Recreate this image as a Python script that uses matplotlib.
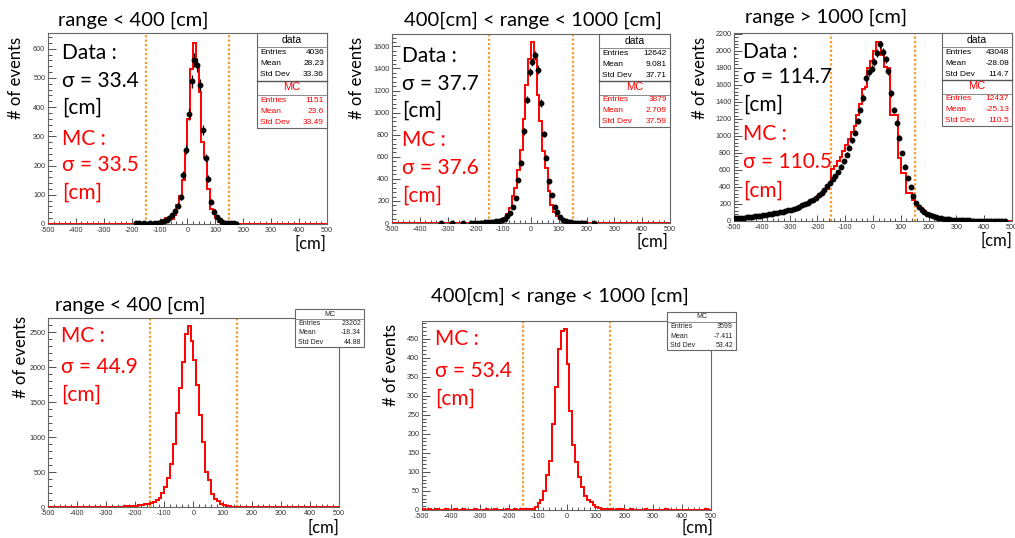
import numpy as np
import matplotlib
matplotlib.use("Agg")
import matplotlib.pyplot as plt
from matplotlib.patches import Rectangle
from matplotlib.lines import Line2D

plt.rcParams['axes.unicode_minus'] = False

W, H = 1015, 538
SLIDE_FONT = ['Lato', 'DejaVu Sans']
ROOT_FONT = ['Liberation Sans', 'DejaVu Sans']

# 10 cm bins from -500 to 500 cm
edges = np.arange(-500, 501, 10)
centers = edges[:-1] + 5

# range < 400 cm : data and MC (left edge of first listed bin, then counts)
p1_data_lo = -190
p1_data = [2, 2, 1, 2, 1, 2, 1, 3, 4, 6,
           9, 14, 20, 32, 45, 63,
           91, 168, 254, 377, 488, 562, 545, 476,
           322, 226, 155, 77, 42, 25, 14, 8, 5, 4, 3, 2, 1]
p1_mc_lo = -110
p1_mc = [3, 8, 15, 20, 20, 18, 30, 65, 95, 150,
         250, 360, 530, 620, 545, 453, 282, 226, 120, 50,
         48, 20, 8, 4, 2, 1]

# 400 cm < range < 1000 cm
p2_data_lo = -330
p2_data = [1, 0, 0, 0, 1, 0, 0, 0, 1, 0,
           0, 2, 2, 3, 3, 4, 5, 6, 8, 10,
           14, 20, 25, 35, 60, 90, 148, 225, 391, 545,
           830, 1118, 1370, 1460, 1520, 1390, 1088, 809, 592, 376,
           255, 148, 100, 50, 30, 15, 10, 6, 4, 3,
           2, 2, 1, 0, 0, 1]
p2_mc_lo = -150
p2_mc = [3, 5, 10, 15, 25, 45, 80, 136, 248, 318,
         482, 664, 945, 1248, 1490, 1640, 1490, 1157, 920, 650,
         500, 290, 164, 100, 60, 35, 20, 12, 8, 5, 3]

# range > 1000 cm (full -500..500)
p3_data = [30, 32, 35, 38, 42, 45, 50, 55, 58, 62,
           68, 72, 78, 82, 90, 95, 100, 110, 115, 125,
           130, 140, 155, 170, 185, 200, 215, 235, 250, 275,
           300, 335, 370, 410, 450, 490, 530, 580, 640, 700,
           780, 860, 950, 1040, 1180, 1300, 1450, 1680, 1750, 1790,
           1870, 1975, 2075, 1990, 1900, 1760, 1500, 1300, 1150, 980,
           800, 640, 500, 400, 290, 215, 165, 130, 100, 80,
           65, 55, 45, 38, 32, 27, 22, 18, 15, 13,
           11, 9, 8, 7, 6, 5, 4, 4, 3, 3,
           2, 2, 2, 1, 1, 1, 1, 1, 0, 0]
p3_mc = [25, 28, 30, 32, 38, 40, 45, 48, 52, 55,
         60, 62, 70, 55, 85, 70, 95, 100, 110, 120,
         130, 140, 155, 165, 180, 195, 210, 230, 250, 270,
         295, 320, 350, 380, 420, 617, 650, 700, 754, 817,
         891, 960, 1050, 1120, 1250, 1380, 1550, 1580, 1800, 1880,
         2000, 2110, 2110, 1950, 1810, 1800, 1250, 1250, 1250, 740,
         560, 560, 330, 330, 246, 210, 180, 150, 120, 90,
         75, 65, 50, 40, 35, 28, 22, 18, 15, 12,
         10, 8, 7, 6, 5, 4, 4, 3, 3, 2,
         2, 2, 1, 1, 1, 1, 0, 0, 0, 0]

# MC only, range < 400 cm
p4_mc_lo = -280
p4_mc = [3, 4, 5, 6, 8, 10, 13, 16, 20, 25,
         30, 38, 45, 55, 70, 95, 135, 195, 290, 410,
         620, 900, 1340, 1700, 2080, 2470, 2590, 2370, 2100, 1750,
         1320, 930, 500, 380, 190, 120, 80, 50, 25, 15,
         10, 6, 4]

# MC only, 400 cm < range < 1000 cm
p5_mc_lo = -500
p5_mc = [2, 1, 2, 0, 1, 2, 1, 0, 2, 1,
         1, 2, 0, 1, 2, 1, 1, 0, 2, 1,
         1, 0, 2, 1, 1, 2, 1, 0, 1, 2,
         1, 1, 2, 1, 3, 2, 3, 2, 3, 9,
         19, 27, 49, 91, 129, 225, 322, 423, 470, 475,
         384, 261, 171, 127, 87, 61, 36, 27, 20, 12,
         7, 4, 3, 2, 3, 2, 1, 2, 1, 2,
         1, 0, 2, 1, 1, 0, 1, 2, 1, 0,
         1, 1, 0, 1, 2, 1, 0, 1, 1, 0,
         1, 0, 1, 1, 0, 1, 0, 1, 2, 1]


def full(lo, vals):
    h = np.zeros(len(centers))
    i0 = int((lo - edges[0]) // 10)
    h[i0:i0 + len(vals)] = vals
    return h


def fx(x):
    return x / W


def fy(y):
    return 1 - y / H


fig = plt.figure(figsize=(W / 100, H / 100), dpi=100)


def panel(box, ytop, ystep, mc, data=None):
    l, t, r, b = box
    ax = fig.add_axes([fx(l), fy(b), (r - l) / W, (b - t) / H])
    ax.stairs(mc, edges, color='red', lw=1.4, zorder=3)
    if data is not None:
        m = data > 0
        ax.errorbar(centers[m], data[m], yerr=np.sqrt(data[m]), fmt='o',
                    color='black', ms=3.2, elinewidth=0.9, capsize=0, zorder=4)
    for xv in (-150, 150):
        ax.axvline(xv, color='#f39a2c', ls=(0, (1, 1)), lw=1.6, zorder=2)
    ax.set_xlim(-500, 500)
    ax.set_ylim(0, ytop)
    ax.set_xticks(np.arange(-500, 501, 100))
    ax.set_xticks(np.arange(-500, 501, 20), minor=True)
    yt = np.arange(0, ytop, ystep)
    ax.set_yticks(yt)
    ax.set_yticks(np.arange(0, ytop, ystep / 5), minor=True)
    ax.set_xticklabels([str(v) for v in np.arange(-500, 501, 100)])
    ax.set_yticklabels([str(int(v)) for v in yt])
    ax.tick_params(which='both', direction='in', top=False, right=False,
                   labelsize=5.2, labelcolor='#333333', color='#333333',
                   width=0.6, pad=2)
    ax.tick_params(axis='x', which='major', length=4.5)
    ax.tick_params(axis='x', which='minor', length=2.2)
    ax.tick_params(axis='y', which='major', length=6)
    ax.tick_params(axis='y', which='minor', length=3)
    for lab in ax.get_xticklabels() + ax.get_yticklabels():
        lab.set_family(ROOT_FONT)
    for s in ax.spines.values():
        s.set_color('#666666')
        s.set_linewidth(0.8)
    return ax


def stat_block(x0, x1, top, head_h, row_h, title, rows, color, hs, rs):
    fig.text(fx((x0 + x1) / 2), fy(top + head_h / 2), title, ha='center',
             va='center', fontsize=hs, color=color, family=ROOT_FONT,
             zorder=7)
    y = top + head_h
    fig.add_artist(Line2D([fx(x0), fx(x1)], [fy(y), fy(y)], color='#777777',
                          lw=0.6, zorder=7))
    for i, (name, val) in enumerate(rows):
        yy = y + row_h * (i + 0.5)
        fig.text(fx(x0 + 3), fy(yy), name, ha='left', va='center',
                 fontsize=rs, color=color, family=ROOT_FONT, zorder=7)
        fig.text(fx(x1 - 3), fy(yy), val, ha='right', va='center',
                 fontsize=rs, color=color, family=ROOT_FONT, zorder=7)
    return y + row_h * len(rows)


def stat_box(x0, x1, top, bottom):
    fig.add_artist(Rectangle((fx(x0), fy(bottom)), (x1 - x0) / W,
                             (bottom - top) / H, transform=fig.transFigure,
                             facecolor='white', edgecolor='#666666', lw=0.8,
                             zorder=5))


def two_stats(x0, x1, top, bottom, dvals, mvals):
    stat_box(x0, x1, top, bottom)
    half = (bottom - top) / 2
    head = 14
    row = (half - head) / 3
    names = ['Entries', 'Mean', 'Std Dev']
    mid = stat_block(x0, x1, top, head, row, 'data', list(zip(names, dvals)),
                     'black', 7.5, 6)
    fig.add_artist(Line2D([fx(x0), fx(x1)], [fy(mid), fy(mid)],
                          color='#555555', lw=1.0, zorder=7))
    stat_block(x0, x1, mid, head, row, 'MC', list(zip(names, mvals)),
               'red', 8, 6)


def one_stats(x0, x1, top, bottom, mvals):
    stat_box(x0, x1, top, bottom)
    head = 10
    row = (bottom - top - head) / 3
    names = ['Entries', 'Mean', 'Std Dev']
    stat_block(x0, x1, top, head, row, 'MC', list(zip(names, mvals)),
               '#222222', 5, 5)


def slide_text(x, y, s, color='black', size=15, **kw):
    fig.text(fx(x), fy(y), s, color=color, fontsize=size, family=SLIDE_FONT,
             va='center', **kw)


def sigma_lines(x, ys, labels, colors):
    for y, s, c in zip(ys, labels, colors):
        slide_text(x, y, s, color=c, ha='left')


# ---- top row: data vs MC ----
panel((48, 33, 327, 224), 654, 100, full(p1_mc_lo, p1_mc),
      full(p1_data_lo, p1_data))
panel((392, 34, 670, 223), 1712, 200, full(p2_mc_lo, p2_mc),
      full(p2_data_lo, p2_data))
panel((734, 33, 1012, 221), 2210, 200, np.array(p3_mc, float),
      np.array(p3_data, float))

# ---- bottom row: MC only ----
panel((48, 318, 339, 507), 2706, 500, full(p4_mc_lo, p4_mc))
panel((422, 321, 711, 510), 496, 50, full(p5_mc_lo, p5_mc))

two_stats(257, 327, 33, 128, ['4036', '28.23', '33.36'],
          ['1151', '23.6', '33.49'])
two_stats(599, 670, 34, 127, ['12642', '9.081', '37.71'],
          ['3879', '2.709', '37.59'])
two_stats(942, 1012, 33, 126, ['43048', '-28.08', '114.7'],
          ['12437', '-25.13', '110.5'])
one_stats(295, 364, 309, 347, ['23202', '-18.34', '44.88'])
one_stats(667, 736, 312, 350, ['3599', '-7.411', '53.42'])

# titles
slide_text(133, 20, 'range < 400 [cm]', size=14.5, ha='center')
slide_text(533, 20, '400[cm] < range < 1000 [cm]', size=14.5, ha='center')
slide_text(826, 17, 'range > 1000 [cm]', size=14.5, ha='center')
slide_text(130, 305, 'range < 400 [cm]', size=14.5, ha='center')
slide_text(560, 296, '400[cm] < range < 1000 [cm]', size=14.5, ha='center')

# axis titles
for x, y in [(16, 78), (357, 78), (700, 78), (21, 357), (391, 365)]:
    slide_text(x, y, '# of events', size=12, rotation=90, ha='center')
for x, y in [(310, 244), (652, 242), (996, 241), (323, 528), (697, 528)]:
    slide_text(x, y, '[cm]', size=12, ha='center')

# resolution annotations
k, r = 'black', 'red'
sigma_lines(62, [53, 81, 108, 139, 165, 193],
            ['Data :', 'σ = 33.4', '[cm]', 'MC :', 'σ = 33.5', '[cm]'],
            [k, k, k, r, r, r])
sigma_lines(402, [56, 84, 111, 140, 168, 196],
            ['Data :', 'σ = 37.7', '[cm]', 'MC :', 'σ = 37.6', '[cm]'],
            [k, k, k, r, r, r])
sigma_lines(743, [52, 77, 105, 134, 162, 191],
            ['Data :', 'σ = 114.7', '[cm]', 'MC :', 'σ = 110.5', '[cm]'],
            [k, k, k, r, r, r])
sigma_lines(61, [336, 367, 395], ['MC :', 'σ = 44.9', '[cm]'], [r, r, r])
sigma_lines(435, [339, 371, 399], ['MC :', 'σ = 53.4', '[cm]'], [r, r, r])

fig.savefig('out.png', dpi=100)
